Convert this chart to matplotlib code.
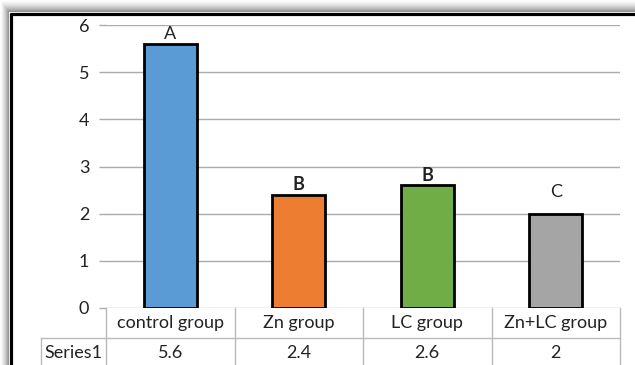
import numpy as np
import matplotlib.pyplot as plt
from matplotlib.transforms import blended_transform_factory

categories = ["control group", "Zn group", "LC group", "Zn+LC group"]
values = [5.6, 2.4, 2.6, 2]
value_labels = ["5.6", "2.4", "2.6", "2"]
letters = ["A", "B", "B", "C"]
letter_bold = [False, True, True, False]
series_name = "Series1"
colors = ["#5B9BD5", "#ED7D31", "#70AD47", "#A5A5A5"]
yticks = [0, 1, 2, 3, 4, 5, 6]

plt.rcParams["font.family"] = ["Lato", "DejaVu Sans"]
FS = 13

W, H = 635, 365
fig = plt.figure(figsize=(W / 100, H / 100), dpi=100)

# background frame with soft shadow on top / left
bg = fig.add_axes([0, 0, 1, 1], zorder=-1)
bg.set_xlim(0, W)
bg.set_ylim(H, 0)
bg.axis("off")
yy, xx = np.mgrid[0:H, 0:W] + 0.5
t = np.clip(np.minimum(xx / 9.0, yy / 12.0), 0, 1)
shade = np.where(t < 1, 1 - 0.45 * t ** 1.5, 1.0)
bg.imshow(shade, cmap="gray", vmin=0, vmax=1, extent=[0, W, H, 0],
          interpolation="bilinear", aspect="auto")
bg.plot([10, W + 5], [13.5, 13.5], color="black", lw=2.3, solid_capstyle="butt")
bg.plot([10.5, 10.5], [12.5, H + 5], color="black", lw=2.3, solid_capstyle="butt")

ax = fig.add_axes([106 / W, 1 - 308 / H, 514 / W, 283 / H])
ax.patch.set_alpha(0)
x = np.arange(len(categories))
ax.bar(x, values, width=0.41, color=colors, edgecolor="black", linewidth=2, zorder=3)

ax.set_xlim(-0.5, len(categories) - 0.5)
ax.set_ylim(0, 6)
ax.set_yticks(yticks)
ax.set_xticks([])
for s in ax.spines.values():
    s.set_visible(False)
ax.grid(axis="y", color="#ABABAB", linewidth=1)
ax.set_axisbelow(True)
ax.tick_params(axis="y", length=5, color="#ABABAB", width=1, pad=7,
               labelsize=FS, labelcolor="#222222")

offsets = [1, 1, 1, 10]
for xi, v, lab, bold, off in zip(x, values, letters, letter_bold, offsets):
    ax.annotate(lab, (xi, v), xytext=(0, off), textcoords="offset points",
                ha="center", va="bottom", fontsize=FS,
                fontweight="bold" if bold else "normal", color="#222222")

# data table under the axis
tr = blended_transform_factory(ax.transData, ax.transAxes)
row_h = 30 / 283
left_edge = -0.5 - 65 / 128.5
gc = "#BBBBBB"
n = len(categories)
for xb in np.arange(n + 1) - 0.5:
    ax.plot([xb, xb], [0, -2 * row_h], color=gc, lw=1, transform=tr, clip_on=False)
ax.plot([left_edge, left_edge], [-row_h, -2 * row_h], color=gc, lw=1,
        transform=tr, clip_on=False)
ax.plot([left_edge, n - 0.5], [-row_h, -row_h], color=gc, lw=1,
        transform=tr, clip_on=False)
for xi, cat, vl in zip(x, categories, value_labels):
    ax.text(xi, -row_h / 2, cat, ha="center", va="center", fontsize=FS,
            color="#222222", transform=tr)
    ax.text(xi, -1.5 * row_h, vl, ha="center", va="center", fontsize=FS,
            color="#222222", transform=tr)
ax.text((left_edge - 0.5) / 2, -1.5 * row_h, series_name, ha="center", va="center",
        fontsize=FS, color="#222222", transform=tr)

fig.savefig("out.png", dpi=100)
